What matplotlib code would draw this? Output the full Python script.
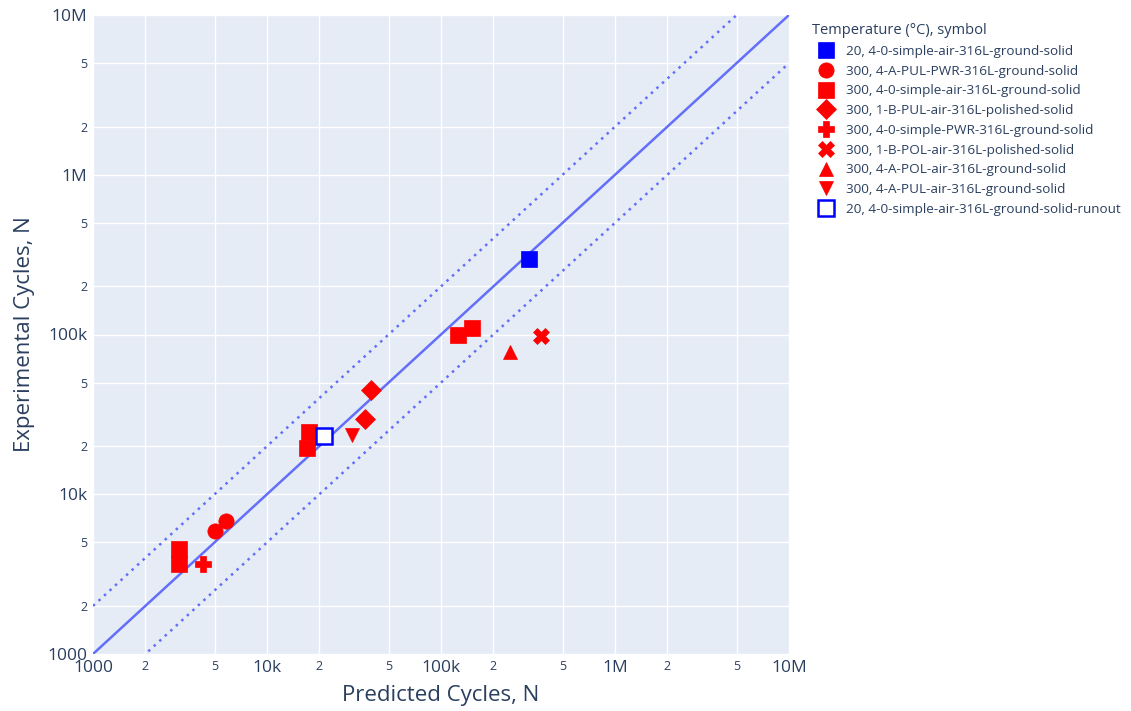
import matplotlib.pyplot as plt
import numpy as np

plt.rcParams['font.family'] = ['Open Sans', 'DejaVu Sans']

# series: (label, marker, color, filled, predicted, experimental)
labels = [
    "20, 4-0-simple-air-316L-ground-solid",
    "300, 4-A-PUL-PWR-316L-ground-solid",
    "300, 4-0-simple-air-316L-ground-solid",
    "300, 1-B-PUL-air-316L-polished-solid",
    "300, 4-0-simple-PWR-316L-ground-solid",
    "300, 1-B-POL-air-316L-polished-solid",
    "300, 4-A-POL-air-316L-ground-solid",
    "300, 4-A-PUL-air-316L-ground-solid",
    "20, 4-0-simple-air-316L-ground-solid-runout",
]
predicted = [
    [320000],
    [5030, 5810],
    [3130, 3130, 17400, 16900, 125600, 150000],
    [39600, 36700],
    [4300],
    [374000],
    [249000],
    [30800],
    [21300],
]
experimental = [
    [297000],
    [5890, 6800],
    [4520, 3656, 24500, 19400, 100000, 110000],
    [45000, 29400],
    [3675],
    [98400],
    [78000],
    [23500],
    [23100],
]
markers = ["s", "o", "s", "D", "P", "X", "^", "v", "s"]
colors = ["#0000ff", "#ff0000", "#ff0000", "#ff0000", "#ff0000",
          "#ff0000", "#ff0000", "#ff0000", "#0000ff"]
sizes = [11.5, 11, 11.5, 10, 11, 11, 10, 10, 11]

ticks = [1e3, 2e3, 5e3, 1e4, 2e4, 5e4, 1e5, 2e5, 5e5, 1e6, 2e6, 5e6, 1e7]
tick_text = ["1000", "2", "5", "10k", "2", "5", "100k", "2", "5",
             "1M", "2", "5", "10M"]

text_col = "#2a3f5f"
line_col = "#636efa"

fig = plt.figure(figsize=(11.31, 7.11), dpi=100)
ax = fig.add_axes([93 / 1131, 57 / 711, 696 / 1131, 639 / 711])
ax.set_facecolor("#e5ecf6")
ax.set_xscale("log")
ax.set_yscale("log")
ax.set_xlim(1e3, 1e7)
ax.set_ylim(1e3, 1e7)

ref = np.array([1e3, 1e7])
ax.plot(ref, ref, color=line_col, lw=1.8, zorder=2)
ax.plot(ref, ref * 2, color=line_col, lw=1.8, ls=(0, (1, 2)), zorder=2)
ax.plot(ref, ref / 2, color=line_col, lw=1.8, ls=(0, (1, 2)), zorder=2)

for lab, px, ex, m, c, s in zip(labels, predicted, experimental, markers, colors, sizes):
    if lab.endswith("runout"):
        ax.plot(px, ex, ls="none", marker=m, ms=s, mfc="white", mec=c,
                mew=1.8, label=lab, zorder=3)
    else:
        ax.plot(px, ex, ls="none", marker=m, ms=s, color=c, mec=c,
                mew=0.5, label=lab, zorder=3)

ax.xaxis.set_major_locator(plt.FixedLocator(ticks))
ax.yaxis.set_major_locator(plt.FixedLocator(ticks))
ax.xaxis.set_minor_locator(plt.NullLocator())
ax.yaxis.set_minor_locator(plt.NullLocator())
ax.set_xticklabels(tick_text)
ax.set_yticklabels(tick_text)
ax.tick_params(length=0, colors=text_col)
ax.tick_params(axis="x", pad=4)
ax.tick_params(axis="y", pad=4)
for lbls in (ax.get_xticklabels(), ax.get_yticklabels()):
    for t in lbls:
        t.set_fontsize(9 if t.get_text() in ("2", "5") else 12.5)
        t.set_color(text_col)

ax.grid(True, color="white", lw=1)
ax.set_axisbelow(True)
for sp in ax.spines.values():
    sp.set_visible(False)

ax.set_xlabel("Predicted Cycles, N", fontsize=16, color=text_col, labelpad=7)
ax.set_ylabel("Experimental Cycles, N", fontsize=16, color=text_col, labelpad=9)

leg = fig.legend(loc="upper left", bbox_to_anchor=(800 / 1131, 1 - 11 / 711),
                 frameon=False, fontsize=9.7, title="Temperature (°C), symbol",
                 title_fontsize=10.5, labelspacing=0.5, handletextpad=0.5,
                 markerscale=1.0, alignment="left")
for t in leg.get_texts():
    t.set_color(text_col)
leg.get_title().set_color(text_col)

fig.savefig("out.png", dpi=100)
